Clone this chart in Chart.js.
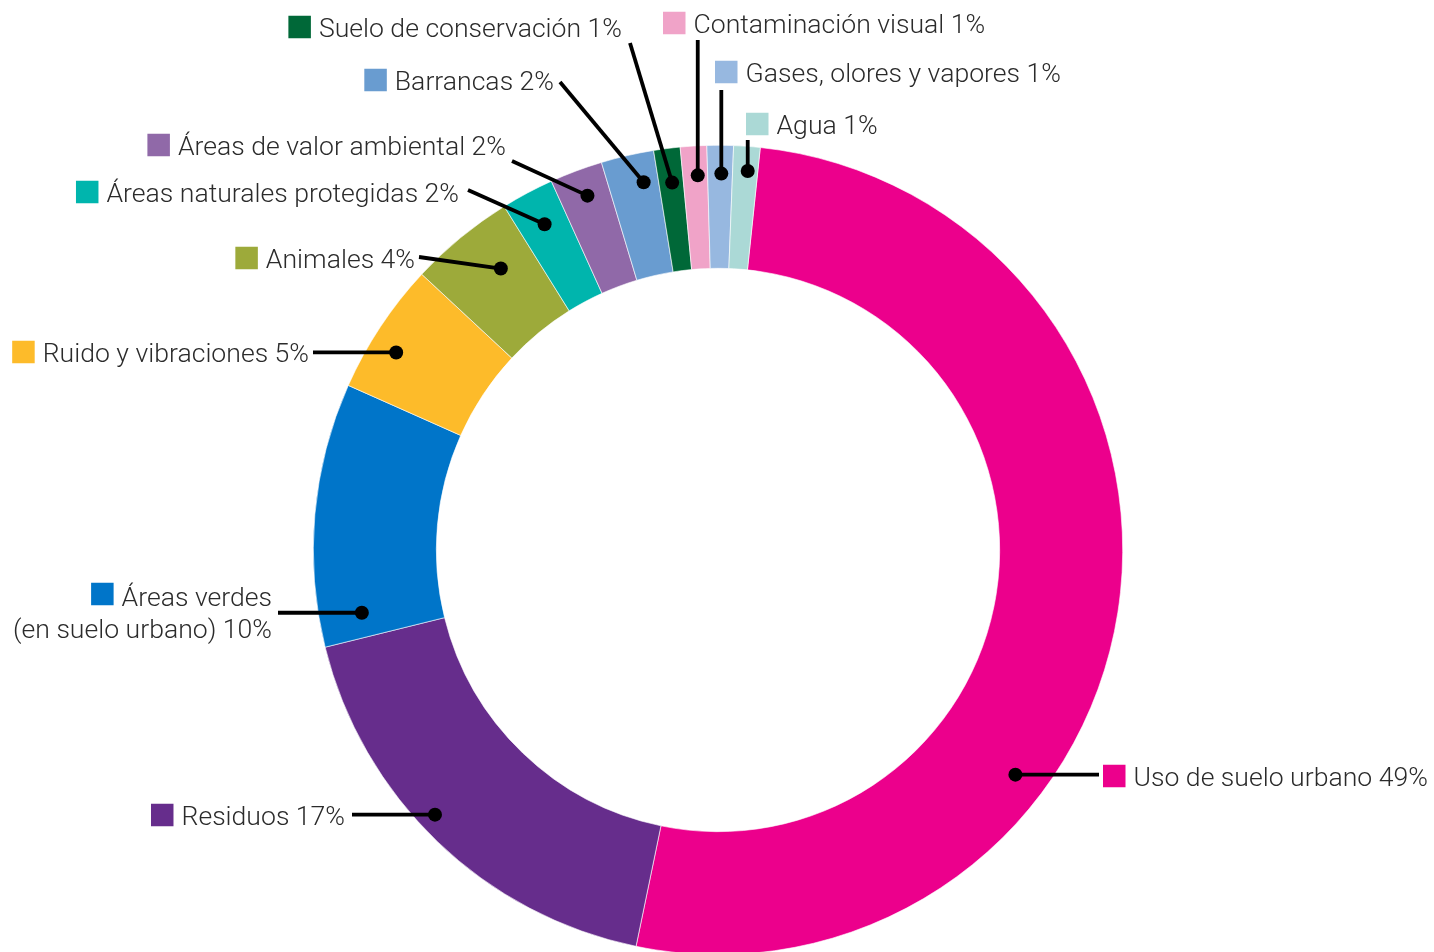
<!DOCTYPE html>
<html>
<head>
<meta charset="utf-8">
<script src="https://cdn.jsdelivr.net/npm/chart.js@4/dist/chart.umd.min.js"></script>
<style>
  html, body { margin: 0; padding: 0; background: #fff; overflow: hidden; }
  #wrap { position: absolute; left: 0; top: 0; width: 1434px; height: 960px; }
</style>
</head>
<body>
<div id="wrap"><canvas id="myChart" width="1434" height="960"></canvas></div>
<script>
// data (percent, clockwise from the top)
var categorias = [
  "Uso de suelo urbano", "Residuos", "Áreas verdes (en suelo urbano)", "Ruido y vibraciones",
  "Animales", "Áreas naturales protegidas", "Áreas de valor ambiental", "Barrancas",
  "Suelo de conservación", "Contaminación visual", "Gases, olores y vapores", "Agua"
];
var porcentajes = [49, 17, 10, 5, 4, 2, 2, 2, 1, 1, 1, 1];
var etiquetas = [
  ["Uso de suelo urbano 49%"], ["Residuos 17%"], ["Áreas verdes", "(en suelo urbano) 10%"],
  ["Ruido y vibraciones 5%"], ["Animales 4%"], ["Áreas naturales protegidas 2%"],
  ["Áreas de valor ambiental 2%"], ["Barrancas 2%"], ["Suelo de conservación 1%"],
  ["Contaminación visual 1%"], ["Gases, olores y vapores 1%"], ["Agua 1%"]
];
var colores = [
  "#EC008C", "#662D8C", "#0075C9", "#FDBB2A", "#9DAA3A", "#00B5AD",
  "#9069A8", "#699CD0", "#006838", "#F0A3C8", "#97B8E0", "#ABD9D6"
];

// label layout: t = fraction along the slice, f = fraction across the ring,
// side 'L' = text right aligned at x, 'R' = square at x then text
var rotulos = [
  { t: .652, f: .74, side: "R", x: 1103, y: 776, lead: [1099, 775], kind: "h" },
  { t: .547, f: .86, side: "L", x: 345, y: 815, lead: [352, 815], kind: "h" },
  { t: .103, f: .65, side: "L", x: 272, y: 596, lead: [278, 613], kind: "h", sq: 594 },
  { t: .398, f: .78, side: "L", x: 309, y: 352, lead: [313, 352], kind: "h" },
  { t: .62, f: .60, side: "L", x: 415, y: 258, lead: [419, 257], kind: "d" },
  { t: .51, f: .71, side: "L", x: 459, y: 192, lead: [468, 190], kind: "d" },
  { t: .54, f: .78, side: "L", x: 506, y: 145, lead: [512, 161], kind: "d" },
  { t: .70, f: .76, side: "L", x: 554, y: 80, lead: [560, 82], kind: "d" },
  { t: .54, f: .72, side: "L", x: 622, y: 27, lead: [630, 43], kind: "d" },
  { t: .60, f: .76, side: "R", x: 663, y: 23, lead: [698, 40], kind: "v" },
  { t: .55, f: .77, side: "R", x: 715, y: 72, lead: [722, 90], kind: "v" },
  { t: .60, f: .80, side: "R", x: 746, y: 124, lead: [748, 140], kind: "v" }
];

var FONT = "300 26.6px Roboto";
var SQ = 22.5;

var leaderPlugin = {
  id: "leaders",
  afterDatasetsDraw: function(chart) {
    var ctx = chart.ctx;
    var arcs = chart.getDatasetMeta(0).data;
    ctx.save();
    ctx.font = FONT;
    for (var i = 0; i < arcs.length; i++) {
      var p = arcs[i].getProps(["x", "y", "startAngle", "endAngle", "innerRadius", "outerRadius"], true);
      var r = rotulos[i];
      var a = p.startAngle + r.t * (p.endAngle - p.startAngle);
      var rad = p.innerRadius + r.f * (p.outerRadius - p.innerRadius);
      var dx = p.x + Math.cos(a) * rad;
      var dy = p.y + Math.sin(a) * rad;
      var lx = r.lead[0], ly = r.lead[1];
      if (r.kind == "h") ly = dy;
      if (r.kind == "v") lx = dx;

      ctx.strokeStyle = "#000";
      ctx.lineWidth = 3.8;
      ctx.beginPath();
      ctx.moveTo(lx, ly);
      ctx.lineTo(dx, dy);
      ctx.stroke();
      ctx.fillStyle = "#000";
      ctx.beginPath();
      ctx.arc(dx, dy, 7, 0, Math.PI * 2);
      ctx.fill();

      var lines = etiquetas[i];
      ctx.fillStyle = "#2b2b2b";
      ctx.textBaseline = "alphabetic";
      var sqY = r.sq || r.y;
      if (r.side == "R") {
        ctx.fillStyle = colores[i];
        ctx.fillRect(r.x, sqY - SQ / 2, SQ, SQ);
        ctx.fillStyle = "#2b2b2b";
        ctx.textAlign = "left";
        ctx.fillText(lines[0], r.x + SQ + 8, r.y + 9.5);
      } else {
        ctx.textAlign = "right";
        for (var k = 0; k < lines.length; k++) {
          ctx.fillText(lines[k], r.x, r.y + 9.5 + k * 32);
        }
        var w = ctx.measureText(lines[0]).width;
        ctx.fillStyle = colores[i];
        ctx.fillRect(r.x - w - SQ - 8, sqY - SQ / 2, SQ, SQ);
      }
    }
    ctx.restore();
  }
};

var ctx = document.getElementById("myChart");
var chart = new Chart(ctx, {
  type: "doughnut",
  data: {
    labels: categorias,
    datasets: [{
      data: porcentajes,
      backgroundColor: colores,
      borderColor: "#ffffff",
      borderWidth: 0.6,
      hoverOffset: 0
    }]
  },
  options: {
    responsive: false,
    animation: false,
    rotation: 6,
    cutout: "69.6%",
    layout: { padding: { left: 313, right: 311, top: 145, bottom: 5 } },
    plugins: { legend: { display: false }, tooltip: { enabled: false } }
  },
  plugins: [leaderPlugin]
});
</script>
</body>
</html>
